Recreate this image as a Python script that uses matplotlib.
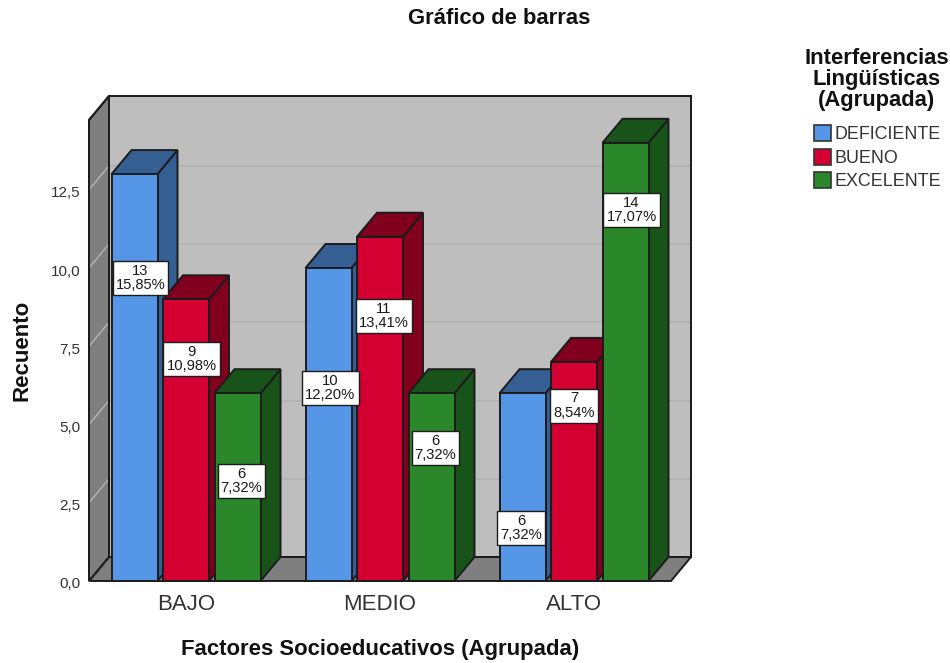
import matplotlib
matplotlib.use('Agg')
import matplotlib.pyplot as plt
from matplotlib.patches import Polygon, Patch
from matplotlib.transforms import ScaledTranslation

plt.rcParams['font.family'] = ['Liberation Sans', 'DejaVu Sans']

# data
categories = ['BAJO', 'MEDIO', 'ALTO']
series_names = ['DEFICIENTE', 'BUENO', 'EXCELENTE']
counts = {
    'DEFICIENTE': [13, 10, 6],
    'BUENO': [9, 11, 7],
    'EXCELENTE': [6, 6, 14],
}
percents = {
    'DEFICIENTE': ['15,85%', '12,20%', '7,32%'],
    'BUENO': ['10,98%', '13,41%', '8,54%'],
    'EXCELENTE': ['7,32%', '7,32%', '17,07%'],
}
y_ticks = [0, 2.5, 5, 7.5, 10, 12.5]
y_tick_labels = ['0,0', '2,5', '5,0', '7,5', '10,0', '12,5']

# where each value box sits: height in counts, x shift in pixels
label_y = {
    'DEFICIENTE': [9.68, 6.17, 1.70],
    'BUENO': [7.09, 8.47, 5.60],
    'EXCELENTE': [3.20, 4.25, 11.85],
}
label_shift = {
    'DEFICIENTE': [6, 2, -1.5],
    'BUENO': [5.5, 4, 0],
    'EXCELENTE': [4, 4, 6],
}

front_colors = {'DEFICIENTE': '#5596E6', 'BUENO': '#D50032', 'EXCELENTE': '#2A882A'}
side_colors = {'DEFICIENTE': '#355F93', 'BUENO': '#80001E', 'EXCELENTE': '#18531A'}
edge = '#1c1c1c'

W, H = 950, 663
px_x = 194.0  # pixels per category
px_y = 31.3   # pixels per count
depth_x = 20 / px_x
depth_y = 24 / px_y
xmin, xmax = -0.5, 2.5
ymin, ymax = 0, 461 / px_y
bar_w = 46 / px_x
bar_step = 51.5 / px_x

fig = plt.figure(figsize=(W / 100, H / 100), dpi=100)
ax = fig.add_axes([89 / W, (H - 581) / H, 582 / W, 461 / H])
ax.set_xlim(xmin, xmax)
ax.set_ylim(ymin, ymax)
for s in ax.spines.values():
    s.set_visible(False)
ax.patch.set_visible(False)


def poly(points, color, z, lw=1.4):
    ax.add_patch(Polygon(points, closed=True, facecolor=color, edgecolor=edge,
                         linewidth=lw, zorder=z, clip_on=False, joinstyle='miter'))


# back wall, floor, left wall
back_wall = [(xmin + depth_x, depth_y), (xmax + depth_x, depth_y),
             (xmax + depth_x, ymax + depth_y), (xmin + depth_x, ymax + depth_y)]
left_wall = [(xmin, 0), (xmin + depth_x, depth_y), (xmin + depth_x, ymax + depth_y), (xmin, ymax)]
poly(back_wall, '#BEBEBE', 1)
poly([(xmin, 0), (xmax, 0), (xmax + depth_x, depth_y), (xmin + depth_x, depth_y)], '#7F7F7F', 1)
poly(left_wall, '#7F7F7F', 1)

# grid on the walls
for t in y_ticks[1:]:
    ax.plot([xmin + depth_x, xmax + depth_x], [t + depth_y, t + depth_y], color='#B2B2B2',
            lw=1.3, zorder=2, clip_on=False)
for t in y_ticks:
    ax.plot([xmin, xmin + depth_x], [t, t + depth_y], color='#B4B4B4', lw=1.0, zorder=2, clip_on=False)

# redraw the wall outlines over the grid ends
poly(back_wall, 'none', 2.5)
poly(left_wall, 'none', 2.5)

# bars
z = 3
for g in range(len(categories)):
    for j, name in enumerate(series_names):
        val = counts[name][g]
        x0 = g + (j - 1) * bar_step - bar_w / 2
        x1 = x0 + bar_w
        poly([(x1, 0), (x1 + depth_x, depth_y), (x1 + depth_x, val + depth_y), (x1, val)], side_colors[name], z)
        poly([(x0, val), (x1, val), (x1 + depth_x, val + depth_y), (x0 + depth_x, val + depth_y)], side_colors[name], z)
        poly([(x0, 0), (x1, 0), (x1, val), (x0, val)], front_colors[name], z + 0.5)
        z += 1

# value boxes
for g in range(len(categories)):
    for j, name in enumerate(series_names):
        xc = g + (j - 1) * bar_step + label_shift[name][g] / px_x
        ax.text(xc, label_y[name][g], f'{counts[name][g]}\n{percents[name][g]}', ha='center', va='center',
                fontsize=10.6, linespacing=1.05, color='#1a1a1a', zorder=100, clip_on=False,
                bbox=dict(boxstyle='square,pad=0.2', facecolor='white', edgecolor='#1c1c1c', linewidth=1.0))

# axes text
ax.set_xticks(range(len(categories)))
ax.set_xticklabels(categories, fontsize=16, color='#333333')
ax.set_yticks(y_ticks)
ax.set_yticklabels(y_tick_labels, fontsize=11, color='#333333')
ax.tick_params(axis='both', length=0)
ax.tick_params(axis='x', pad=9)
ax.tick_params(axis='y', pad=6)
down = ScaledTranslation(0, -2 / 100, fig.dpi_scale_trans)
for lbl in ax.get_yticklabels():
    lbl.set_transform(lbl.get_transform() + down)
ax.set_xlabel('Factores Socioeducativos (Agrupada)', fontsize=15.9, fontweight='bold', color='#111111')
ax.xaxis.set_label_coords(0.5, -(650 - 581) / 461, transform=ax.transAxes)
ax.xaxis.label.set_verticalalignment('center')
ax.set_ylabel('Recuento', fontsize=16, fontweight='bold', color='#111111')
ax.yaxis.set_label_coords(-(89 - 22) / 582, (581 - 350) / 461)
ax.yaxis.label.set_verticalalignment('center')

fig.text(499 / W, 1 - 18 / H, 'Gráfico de barras', ha='center', va='center',
         fontsize=15.8, fontweight='bold', color='#111111')

# legend title kept apart so the gap to the entries can match
fig.text(876.5 / W, 1 - 79.5 / H, 'Interferencias\nLingüísticas\n(Agrupada)', ha='center', va='center',
         ma='center', fontsize=15.8, fontweight='bold', linespacing=1.0, color='#111111')
handles = [Patch(facecolor=front_colors[n], edgecolor='#333333', linewidth=1.2, label=n) for n in series_names]
leg = fig.legend(handles=handles, loc='upper left', bbox_to_anchor=(813.5 / W, 1 - 125 / H), frameon=False,
                 fontsize=12.9, labelspacing=0.3, handlelength=1.0, handleheight=1.0,
                 handletextpad=0.2, borderpad=0, borderaxespad=0, labelcolor='#333333')

fig.savefig('out.png', dpi=100)
